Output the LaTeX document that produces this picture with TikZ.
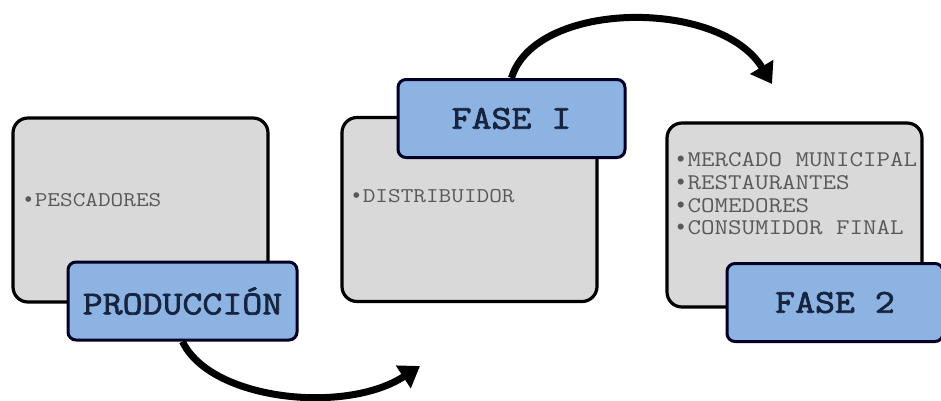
\documentclass[tikz,border=0pt]{standalone}
\usepackage{fontspec}
\newfontfamily\courfont[FakeStretch=1.17]{Latin Modern Mono}
\newfontfamily\courbold[FakeStretch=1.16,FakeBold=2.2]{Latin Modern Mono}
\newfontfamily\bulfont{Liberation Mono}
\newcommand\bul{{\bulfont •}}
\usetikzlibrary{arrows.meta}
\definecolor{boxgray}{HTML}{D9D9D9}
\definecolor{boxblue}{HTML}{8DB3E2}
\definecolor{txtgray}{HTML}{595959}
\definecolor{txtnavy}{HTML}{17243F}
\tikzset{
  graybox/.style={draw=black, line width=3.2pt, fill=boxgray, rounded corners=15pt,
    minimum width=255pt, minimum height=184pt, inner sep=0pt},
  bluebox/.style={draw=black!85!blue, line width=3pt, fill=boxblue, rounded corners=8pt,
    minimum height=78pt, inner sep=0pt, text=txtnavy,
    font=\courbold\fontsize{33.4}{36}\selectfont},
  listtext/.style={text=txtgray, inner sep=0pt, align=left,
    font=\courfont\fontsize{21}{22.7}\selectfont},
  biglist/.style={listtext, font=\courfont\fontsize{22.4}{22.7}\selectfont},
  flowarrow/.style={line width=7pt, -{Triangle[length=20pt,width=26pt]}}
}
\begin{document}
\begin{tikzpicture}[x=1pt,y=-1pt]
\useasboundingbox (0,0) rectangle (941,400);
% gray boxes
\node[graybox] (g1) at (140.5,210) {};
\node[graybox] (g2) at (469.5,209.5) {};
\node[graybox] (g3) at (794.5,215) {};
% texts
\node[listtext, anchor=west] (t1) at (22,200) {\bul PESCADORES};
\node[listtext, anchor=west] (t2) at (350,196) {\bul DISTRIBUIDOR};
\node[biglist, anchor=west] (t3) at (674,194) {\bul MERCADO MUNICIPAL\\\bul RESTAURANTES\\\bul COMEDORES\\\bul CONSUMIDOR FINAL};
% arrow ends
\coordinate (e1) at (420,366);
\coordinate (e2) at (772,84);
% blue boxes
\node[bluebox, minimum width=229pt] (b1) at (182.5,301) {PRODUCCIÓN};
\node[bluebox, minimum width=227pt] (b2) at (511.5,118.5) {FASE I};
\node[bluebox, minimum width=216pt] (b3) at (835,302.5) {FASE 2};
% arrows
\draw[flowarrow] (b1.south) .. controls (210,400) and (345,415) .. (e1);
\draw[flowarrow] (b2.north) .. controls (535,0) and (720,-2) .. (e2);
\end{tikzpicture}
\end{document}
